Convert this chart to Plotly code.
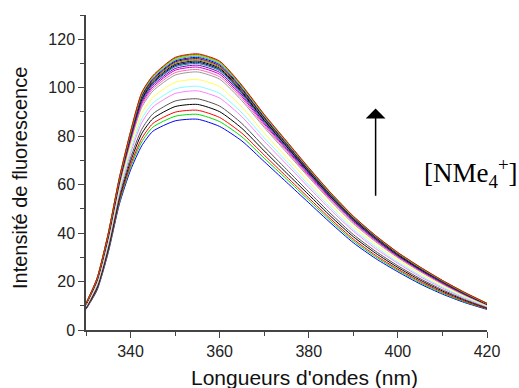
import plotly.graph_objects as go

wavelength = [330, 332.5, 335, 337.5, 340, 342.5, 345, 350, 355, 360, 365, 370, 375,
              380, 385, 390, 395, 400, 405, 410, 415, 420]

s01 = [8.5, 16.5, 32.0, 52.0, 66.0, 76.0, 82.0, 86.3, 87.0, 84.0, 78.0, 69.5, 61.0, 52.5, 44.0, 36.0, 29.5, 24.0, 19.0, 14.8, 11.3, 8.5]
s02 = [8.7, 16.9, 32.6, 52.8, 67.2, 77.6, 83.7, 88.2, 89.0, 86.0, 79.7, 70.9, 62.3, 53.6, 44.9, 36.8, 30.2, 24.6, 19.5, 15.2, 11.6, 8.7]
s03 = [8.8, 17.2, 33.1, 53.5, 68.2, 79.0, 85.2, 89.9, 90.7, 87.7, 81.2, 72.2, 63.3, 54.5, 45.7, 37.5, 30.8, 25.1, 20.0, 15.6, 11.9, 8.8]
s04 = [9.1, 17.6, 33.8, 54.5, 69.6, 81.0, 87.2, 92.2, 93.1, 90.1, 83.2, 73.9, 64.8, 55.8, 46.8, 38.5, 31.7, 25.8, 20.6, 16.1, 12.3, 9.1]
s05 = [9.3, 18.1, 34.5, 55.4, 71.0, 82.8, 89.2, 94.5, 95.4, 92.4, 85.2, 75.6, 66.3, 57.0, 47.9, 39.4, 32.5, 26.5, 21.2, 16.6, 12.6, 9.3]
s06 = [9.6, 18.7, 35.5, 56.8, 72.9, 85.5, 92.0, 97.6, 98.7, 95.7, 88.0, 77.9, 68.4, 58.8, 49.4, 40.8, 33.6, 27.5, 22.0, 17.3, 13.1, 9.6]
s07 = [9.8, 19.0, 36.0, 57.5, 74.1, 87.1, 93.6, 99.5, 100.6, 97.6, 89.6, 79.3, 69.6, 59.8, 50.3, 41.5, 34.3, 28.0, 22.5, 17.7, 13.4, 9.8]
s08 = [10.0, 19.5, 36.9, 58.7, 75.7, 89.4, 96.0, 102.2, 103.4, 100.4, 92.0, 81.3, 71.3, 61.3, 51.6, 42.7, 35.3, 28.9, 23.3, 18.3, 13.9, 10.0]
s09 = [10.3, 20.1, 37.8, 59.9, 77.6, 91.9, 98.6, 105.2, 106.5, 103.5, 94.6, 83.6, 73.3, 63.0, 53.0, 43.9, 36.4, 29.8, 24.1, 18.9, 14.3, 10.3]
s10 = [10.4, 20.3, 38.1, 60.4, 78.1, 92.7, 99.5, 106.2, 107.5, 104.5, 95.5, 84.3, 73.9, 63.5, 53.5, 44.4, 36.7, 30.1, 24.3, 19.1, 14.5, 10.4]
s11 = [10.5, 20.5, 38.4, 60.8, 78.7, 93.5, 100.3, 107.2, 108.5, 105.5, 96.3, 85.0, 74.5, 64.0, 54.0, 44.8, 37.1, 30.4, 24.6, 19.3, 14.6, 10.5]
s12 = [10.6, 20.6, 38.6, 61.1, 79.2, 94.2, 101.0, 107.9, 109.3, 106.3, 97.0, 85.6, 75.0, 64.5, 54.3, 45.1, 37.4, 30.6, 24.8, 19.5, 14.8, 10.6]
s13 = [10.6, 20.8, 38.8, 61.4, 79.6, 94.7, 101.6, 108.6, 110.0, 107.0, 97.6, 86.1, 75.5, 64.9, 54.7, 45.4, 37.6, 30.8, 25.0, 19.7, 14.9, 10.6]
s14 = [10.7, 20.9, 39.0, 61.6, 79.9, 95.1, 102.0, 109.1, 110.5, 107.5, 98.0, 86.5, 75.8, 65.1, 54.9, 45.6, 37.8, 31.0, 25.1, 19.8, 14.9, 10.7]
s15 = [10.7, 21.0, 39.1, 61.8, 80.2, 95.6, 102.5, 109.6, 111.0, 108.0, 98.5, 86.8, 76.1, 65.4, 55.1, 45.8, 38.0, 31.1, 25.2, 19.9, 15.0, 10.7]
s16 = [10.8, 21.0, 39.3, 62.0, 80.5, 96.0, 102.9, 110.1, 111.5, 108.5, 98.9, 87.2, 76.4, 65.7, 55.3, 46.0, 38.1, 31.3, 25.4, 20.0, 15.1, 10.8]
s17 = [10.8, 21.1, 39.4, 62.2, 80.8, 96.4, 103.3, 110.6, 112.0, 109.0, 99.3, 87.6, 76.7, 65.9, 55.6, 46.2, 38.3, 31.4, 25.5, 20.1, 15.2, 10.8]
s18 = [10.9, 21.2, 39.6, 62.4, 81.1, 96.8, 103.7, 111.0, 112.5, 109.5, 99.7, 87.9, 77.1, 66.2, 55.8, 46.4, 38.5, 31.6, 25.6, 20.2, 15.3, 10.9]
s19 = [10.9, 21.3, 39.7, 62.6, 81.4, 97.2, 104.2, 111.5, 113.0, 110.0, 100.2, 88.3, 77.4, 66.5, 56.0, 46.6, 38.7, 31.7, 25.7, 20.3, 15.3, 10.9]
s20 = [10.9, 21.4, 39.8, 62.7, 81.6, 97.4, 104.4, 111.8, 113.3, 110.3, 100.4, 88.5, 77.6, 66.6, 56.2, 46.7, 38.8, 31.8, 25.8, 20.4, 15.4, 10.9]
s21 = [11.0, 21.4, 39.9, 62.9, 81.8, 97.8, 104.7, 112.2, 113.7, 110.7, 100.7, 88.8, 77.8, 66.8, 56.4, 46.9, 38.9, 31.9, 25.9, 20.4, 15.5, 11.0]
s22 = [11.0, 21.5, 40.0, 63.0, 82.0, 98.0, 105.0, 112.5, 114.0, 111.0, 101.0, 89.0, 78.0, 67.0, 56.5, 47.0, 39.0, 32.0, 26.0, 20.5, 15.5, 11.0]

spectra = [s01, s02, s03, s04, s05, s06, s07, s08, s09, s10, s11,
           s12, s13, s14, s15, s16, s17, s18, s19, s20, s21, s22]

colors = ['#0000FF', '#00DD00', '#FF0000', '#000000', '#555555', '#FF80FF',
          '#80FFFF', '#FFFF55', '#999999', '#FF66B2', '#CC00CC', '#8000C0',
          '#008080', '#000080', '#000000', '#808000', '#800000', '#0000FF',
          '#00C0C0', '#E0C000', '#00CC00', '#FF0000']

x_ticks = [340, 360, 380, 400, 420]
y_ticks = [0, 20, 40, 60, 80, 100, 120]

fig = go.Figure()
for ys, c in zip(spectra, colors):
    fig.add_trace(go.Scatter(x=wavelength, y=ys, mode='lines',
                             line=dict(color=c, width=1, shape='spline', smoothing=0.6),
                             showlegend=False, hoverinfo='skip'))

axis_font = dict(family='Arial, Liberation Sans, sans-serif', size=16, color='#222222')

fig.update_layout(
    width=519, height=388,
    margin=dict(l=86, r=32, t=15, b=58),
    plot_bgcolor='white', paper_bgcolor='white',
    showlegend=False,
    xaxis=dict(range=[330, 420], tickvals=x_ticks, ticks='outside', ticklen=6,
               tickwidth=1.2, tickcolor='#444444', showline=True, linecolor='#444444',
               linewidth=1.5, showgrid=False, zeroline=False, tickfont=axis_font,
               minor=dict(ticks='outside', ticklen=4, dtick=10, tick0=330,
                          tickcolor='#444444', tickwidth=1.2, showgrid=False)),
    yaxis=dict(range=[0, 130], tickvals=y_ticks, ticks='outside', ticklen=6,
               tickwidth=1.2, tickcolor='#444444', showline=True, linecolor='#444444',
               linewidth=1.5, showgrid=False, zeroline=False, tickfont=axis_font,
               minor=dict(ticks='outside', ticklen=4, dtick=10, tick0=0,
                          tickcolor='#444444', tickwidth=1.2, showgrid=False)),
)

fig.add_annotation(text="Longueurs d'ondes (nm)", xref='paper', yref='paper',
                   x=0.546, y=0, yshift=-47, xanchor='center', yanchor='middle',
                   showarrow=False,
                   font=dict(family='Arial, Liberation Sans, sans-serif', size=21, color='#111111'))
fig.add_annotation(text='Intensité de fluorescence', xref='paper', yref='paper',
                   x=0, xshift=-66, y=0.4825, xanchor='center', yanchor='middle',
                   textangle=-90, showarrow=False,
                   font=dict(family='Arial, Liberation Sans, sans-serif', size=20, color='#111111'))

fig.add_annotation(x=395, y=91.4, ax=395, ay=54.8, xref='x', yref='y', axref='x', ayref='y',
                   showarrow=True, arrowhead=1, arrowsize=2.2, arrowwidth=1.5,
                   arrowcolor='#000000', text='')
fig.add_annotation(text='[NMe<sub>4</sub><sup>+</sup>]', xref='x', yref='y',
                   x=405.3, y=64.7, xanchor='left', yanchor='middle', showarrow=False,
                   font=dict(family='Liberation Serif, Times New Roman, serif', size=27, color='#000000'))

fig.write_html('out.html', config={'displayModeBar': False},
               post_script="document.body.style.margin='0';")
